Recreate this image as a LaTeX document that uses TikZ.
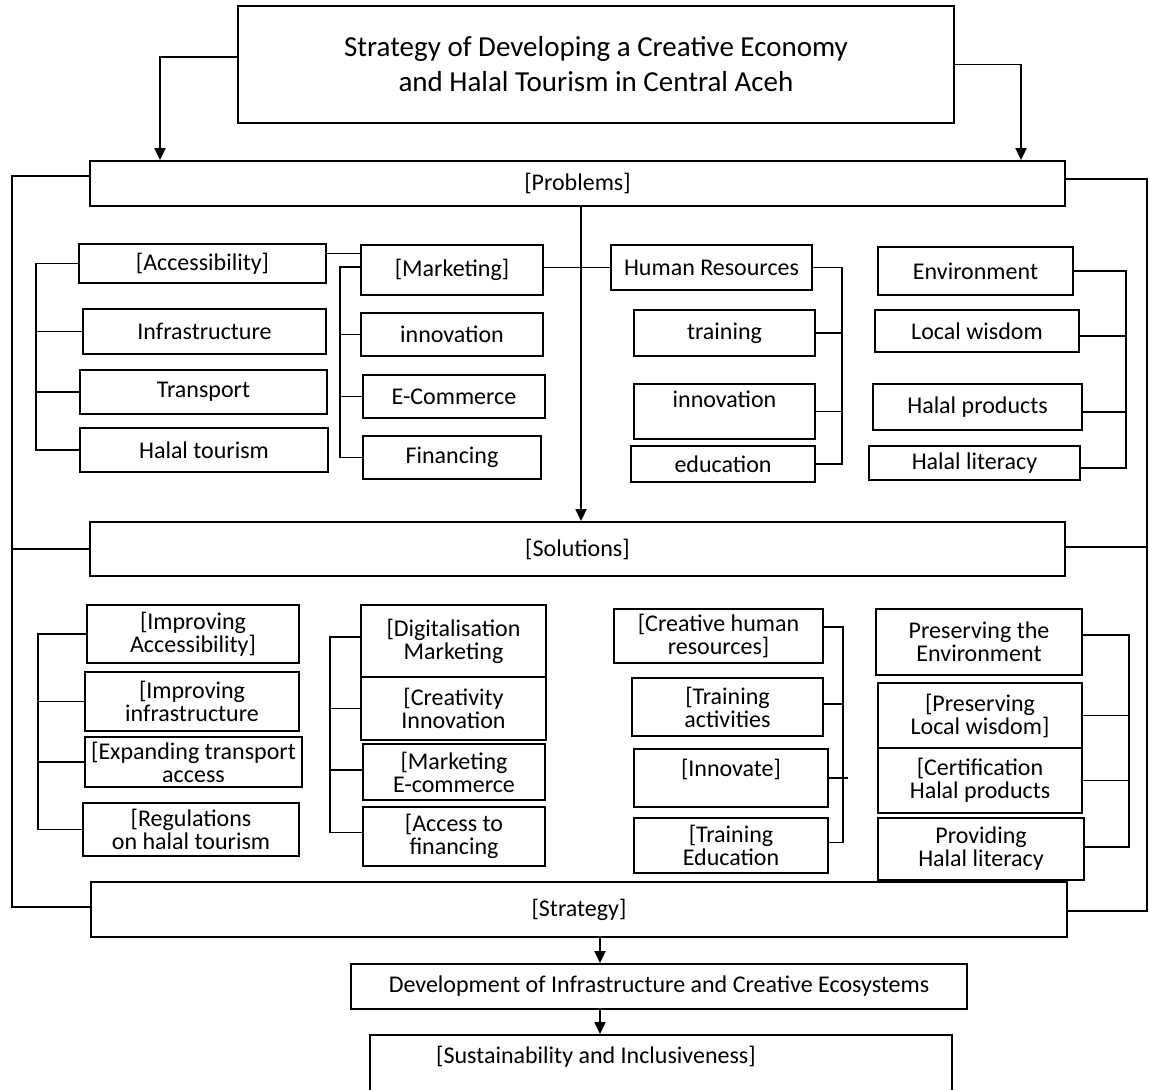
\documentclass[tikz,border=0pt]{standalone}
\usepackage{fontspec}
\setmainfont{Carlito}
\usetikzlibrary{arrows.meta,calc}
\newcommand{\mkbox}[7][]{%
  \pgfmathsetmacro\bcx{(#3+#5)/2}\pgfmathsetmacro\bcy{(#4+#6)/2}%
  \pgfmathsetmacro\bww{(#5-#3)*0.5}\pgfmathsetmacro\bhh{(#6-#4)*0.5}%
  \node[box,minimum width=\bww pt,minimum height=\bhh pt,#1] (#2) at (\bcx,\bcy) {#7};}
\begin{document}
\begin{tikzpicture}[x=0.5pt,y=-0.5pt,
  box/.style={draw,line width=0.9pt,inner sep=1pt,align=center,font=\fontsize{12}{11.5}\selectfont},
  ln/.style={line width=0.9pt},
  arr/.style={line width=0.9pt,-{Triangle[length=6pt,width=5.5pt]}}]
\clip (0,0) rectangle (1150,1090);
\fill[white] (0,0) rectangle (1150,1090);
% coordinates for connector columns
\coordinate (L) at (12,0);
\coordinate (R) at (1147,0);
\coordinate (TL) at (160,0);
\coordinate (TR) at (1021,0);
\coordinate (CX) at (581,0);
\coordinate (AX) at (600,0);
\coordinate (B1) at (36,0);
\coordinate (B2) at (340,0);
\coordinate (B3) at (842,0);
\coordinate (B4) at (1126,0);
\coordinate (S1) at (38,0);
\coordinate (S2) at (330,0);
\coordinate (S3) at (843,0);
\coordinate (S4) at (1129,0);
% main boxes
\mkbox[font=\fontsize{14.5}{17.5}\selectfont]{title}{238}{6}{954}{123}{Strategy of Developing a Creative Economy\\and Halal Tourism in Central Aceh}
\mkbox{prob}{90}{161}{1065}{206}{[Problems]}
\mkbox{sol}{90}{522}{1065}{576}{[Solutions]}
\mkbox{strat}{91}{882}{1067}{937}{[Strategy]}
\mkbox{dev}{351}{964}{967}{1009}{Development of Infrastructure and Creative Ecosystems}
\mkbox{sus}{370}{1035}{952}{1110}{}
\node[font=\fontsize{12}{11.5}\selectfont] (sust) at (596,1057) {[Sustainability and Inclusiveness]};
% problems
\mkbox{acc}{79}{244}{326}{283}{[Accessibility]}
\mkbox{inf}{83}{309}{326}{354}{Infrastructure}
\mkbox{tra}{80}{370}{327}{414}{Transport}
\mkbox{hal}{80}{428}{328}{472}{Halal tourism}
\mkbox{mkt}{361}{245}{543}{295}{[Marketing]}
\mkbox{inn}{361}{313}{543}{356}{innovation}
\mkbox{eco}{363}{375}{545}{418}{E-Commerce}
\mkbox{fin}{363}{436}{541}{479}{Financing}
\mkbox{hr}{611}{245}{812}{290}{Human Resources}
\mkbox{trn}{634}{310}{815}{356}{training}
\mkbox[text depth=12pt]{inv}{634}{384}{815}{439}{innovation}
\mkbox{edu}{631}{446}{815}{482}{education}
\mkbox{env}{878}{247}{1073}{295}{Environment}
\mkbox{loc}{875}{310}{1079}{352}{Local wisdom}
\mkbox{hpr}{873}{384}{1082}{430}{Halal products}
\mkbox{hlt}{869}{446}{1080}{480}{Halal literacy}
% solutions
\mkbox{sia}{87}{605}{299}{663}{[Improving\\Accessibility]}
\mkbox{sii}{85}{672}{299}{731}{[Improving\\infrastructure}
\mkbox{set}{85}{737}{302}{787}{[Expanding transport\\access}
\mkbox{srh}{83}{803}{299}{856}{[Regulations\\on halal tourism}
\mkbox{sdm}{361}{605}{546}{677}{[Digitalisation\\Marketing}
\mkbox{sci}{361}{677}{546}{740}{[Creativity\\Innovation}
\mkbox{sme}{363}{744}{545}{800}{[Marketing\\E-commerce}
\mkbox{saf}{363}{807}{545}{866}{[Access to\\financing}
\mkbox{sch}{614}{609}{823}{663}{[Creative human\\resources]}
\mkbox{sta}{632}{678}{823}{736}{[Training\\activities}
\mkbox[text depth=10pt]{sin}{634}{749}{828}{807}{[Innovate]}
\mkbox{ste}{634}{818}{828}{873}{[Training\\Education}
\mkbox{spe}{876}{609}{1082}{675}{Preserving the\\Environment}
\mkbox{spl}{878}{683}{1082}{748}{[Preserving\\Local wisdom]}
\mkbox{scp}{878}{748}{1082}{813}{[Certification\\Halal products}
\mkbox{shl}{878}{818}{1084}{880}{Providing\\Halal literacy}
% title arrows
\draw[arr] ([yshift=3.75pt]title.west) -| (prob.north -| TL);
\draw[arr] (title.east) -| (prob.north -| TR);
% central arrow
\draw[arr] (prob.south -| CX) -- (sol.north -| CX);
\draw[arr] (strat.south -| AX) -- (dev.north -| AX);
\draw[arr] (dev.south -| AX) -- (sus.north -| AX);
% loops
\draw[ln] ([yshift=3.75pt]prob.west) -- ([yshift=3.75pt]prob.west -| L) -- ([yshift=1.25pt]strat.west -| L) -- ([yshift=1.25pt]strat.west);
\draw[ln] (sol.west) -- (sol.west -| L);
\draw[ln] ([yshift=2.25pt]prob.east) -- ([yshift=2.25pt]prob.east -| R) -- ([yshift=-0.75pt]strat.east -| R) -- ([yshift=-0.75pt]strat.east);
\draw[ln] ([yshift=1pt]sol.east) -- ([yshift=1pt]sol.east -| R);
% problem brackets
\draw[ln] (acc.west) -- (acc.west -| B1) -- (hal.west -| B1) -- (hal.west);
\draw[ln] (inf.west) -- (inf.west -| B1);
\draw[ln] (tra.west) -- (tra.west -| B1);
\draw[ln] ([yshift=5pt]acc.east) -- ([yshift=5pt]acc.east -| mkt.west);
\draw[ln] ([yshift=1.5pt]mkt.west) -- ([yshift=1.5pt]mkt.west -| B2) -- (fin.west -| B2) -- (fin.west);
\draw[ln] (inn.west) -- (inn.west -| B2);
\draw[ln] (eco.west) -- (eco.west -| B2);
\draw[ln] (hr.west) -- (hr.west -| mkt.east);
\draw[ln] (hr.east) -- (hr.east -| B3) -- (edu.east -| B3) -- (edu.east);
\draw[ln] (trn.east) -- (trn.east -| B3);
\draw[ln] (inv.east) -- (inv.east -| B3);
\draw[ln] (env.east) -- (env.east -| B4) -- ([yshift=-2.5pt]hlt.east -| B4) -- ([yshift=-2.5pt]hlt.east);
\draw[ln] ([yshift=-2.5pt]loc.east) -- ([yshift=-2.5pt]loc.east -| B4);
\draw[ln] ([yshift=-2.5pt]hpr.east) -- ([yshift=-2.5pt]hpr.east -| B4);
% solution brackets
\draw[ln] (sia.west) -- (sia.west -| S1) -- (srh.west -| S1) -- (srh.west);
\draw[ln] (sii.west) -- (sii.west -| S1);
\draw[ln] (set.west) -- (set.west -| S1);
\draw[ln] ([yshift=2pt]sdm.west) -- ([yshift=2pt]sdm.west -| S2) -- ([yshift=2pt]saf.west -| S2) -- ([yshift=2pt]saf.west);
\draw[ln] (sci.west) -- (sci.west -| S2);
\draw[ln] ([yshift=1pt]sme.west) -- ([yshift=1pt]sme.west -| S2);
\draw[ln] ([yshift=4.5pt]sch.east) -- ([yshift=4.5pt]sch.east -| S3) -- ([yshift=1.5pt]ste.east -| S3) -- ([yshift=1.5pt]ste.east);
\draw[ln] ([yshift=1.5pt]sta.east) -- ([yshift=1.5pt]sta.east -| S3);
\draw[ln] (sin.east) -- ($(sin.east -| S3)+(5,0)$);
\draw[ln] ([yshift=3.5pt]spe.east) -- ([yshift=3.5pt]spe.east -| S4) -- ([yshift=1pt]shl.east -| S4) -- ([yshift=1pt]shl.east);
\draw[ln] (spl.east) -- (spl.east -| S4);
\draw[ln] (scp.east) -- (scp.east -| S4);
\end{tikzpicture}
\end{document}
